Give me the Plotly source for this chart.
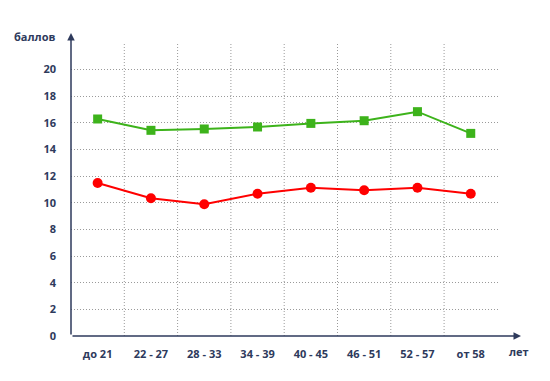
import plotly.graph_objects as go

categories = ["до 21", "22 - 27", "28 - 33", "34 - 39", "40 - 45", "46 - 51", "52 - 57", "от 58"]
green_values = [16.28, 15.43, 15.53, 15.68, 15.95, 16.15, 16.83, 15.2]
red_values = [11.48, 10.33, 9.88, 10.67, 11.12, 10.93, 11.12, 10.67]
y_ticks = [0, 2, 4, 6, 8, 10, 12, 14, 16, 18, 20]

OFF = 8  # page body margin
W, H = 550 - OFF, 381 - OFF
L, R, T, B = 71 - OFF, 51, 43 - OFF, 45
pw, ph = W - L - R, H - T - B
navy = "#2e3a5c"
grid = "#9a9a9a"
font = dict(family="Open Sans", size=11, color=navy)

# reference pixel -> paper coords
def px(x):
    return (x - OFF - L) / pw

def py(y):
    return (H - B - (y - OFF)) / ph

xs = list(range(len(categories)))

fig = go.Figure()
fig.add_trace(go.Scatter(x=xs, y=green_values, mode="lines+markers",
                         line=dict(color="#3db31b", width=2),
                         marker=dict(symbol="square", size=9, color="#3db31b"),
                         showlegend=False))
fig.add_trace(go.Scatter(x=xs, y=red_values, mode="lines+markers",
                         line=dict(color="#ff0000", width=2),
                         marker=dict(symbol="circle", size=10, color="#ff0000"),
                         showlegend=False))

# vertical dotted grid lines between categories
for i in range(len(categories) - 1):
    fig.add_shape(type="line", xref="x", yref="paper", x0=i + 0.5, x1=i + 0.5,
                  y0=0, y1=py(44),
                  line=dict(color=grid, width=1, dash="1px,2px"), layer="below")

# axes with arrows
fig.add_annotation(xref="paper", yref="paper", x=px(71), y=py(33),
                   ax=0, ay=336 - 33, axref="pixel", ayref="pixel",
                   text="", showarrow=True, arrowhead=2, arrowsize=1, arrowwidth=1.5,
                   arrowcolor=navy)
fig.add_annotation(xref="paper", yref="paper", x=px(521), y=py(336),
                   ax=-(521 - 71), ay=0, axref="pixel", ayref="pixel",
                   text="", showarrow=True, arrowhead=2, arrowsize=1, arrowwidth=1.5,
                   arrowcolor=navy)

fig.add_annotation(xref="paper", yref="paper", x=px(34), y=py(37),
                   text="<b>баллов</b>", showarrow=False, font=font,
                   xanchor="center", yanchor="middle")
fig.add_annotation(xref="paper", yref="paper", x=px(519), y=py(351),
                   text="<b>лет</b>", showarrow=False, font=font,
                   xanchor="center", yanchor="middle")

fig.update_layout(
    width=W, height=H,
    margin=dict(l=L, r=R, t=T, b=B, pad=0),
    paper_bgcolor="white", plot_bgcolor="white",
    font=font,
    xaxis=dict(range=[-0.5, -0.5 + pw / 53.3], tickvals=xs,
               ticktext=["<b>%s</b>" % c for c in categories],
               showgrid=False, zeroline=False, showline=False,
               ticks="", ticklabelstandoff=10, fixedrange=True),
    yaxis=dict(range=[0, ph / 13.33], tickvals=y_ticks,
               ticktext=["<b>%d</b>" % v for v in y_ticks],
               showgrid=True, gridcolor=grid, griddash="1px,2px", gridwidth=1,
               zeroline=False, showline=False, ticks="", ticklabelstandoff=14,
               fixedrange=True),
)

fig.write_html("out.html")
